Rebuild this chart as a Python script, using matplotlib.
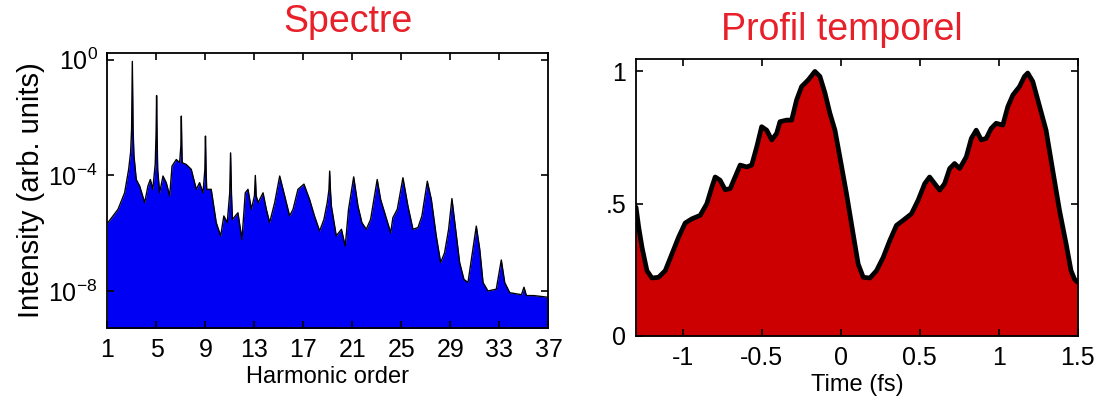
import numpy as np
import matplotlib
matplotlib.use("Agg")
import matplotlib.pyplot as plt

plt.rcParams['font.family'] = ['Liberation Sans', 'DejaVu Sans']
plt.rcParams['mathtext.default'] = 'regular'
plt.rcParams['axes.unicode_minus'] = False

# ---------------- data: spectrum (harmonic order, log10 intensity) -------------
harmonic_order = [
    1.0, 1.04, 1.86, 2.4, 2.73, 2.89, 2.97, 3.03, 3.09, 3.16, 3.35, 3.63, 4.04, 4.3, 4.5, 4.7,
    4.9, 4.97, 5.01, 5.05, 5.1, 5.26, 5.53, 5.8, 6.08, 6.27, 6.62, 6.89, 6.99, 7.03, 7.07,
    7.1, 7.43, 7.84, 8.25, 8.52, 8.8, 8.95, 9.0, 9.05, 9.1, 9.47, 9.88, 10.24, 10.5, 10.78,
    10.98, 11.05, 11.12, 11.2, 11.65, 11.98, 12.25, 12.47, 12.75, 13.0, 13.07, 13.14, 13.3,
    13.7, 13.97, 14.24, 14.65, 15.06, 15.47, 15.87, 16.15, 16.55, 17.04, 17.5, 17.9, 18.32,
    18.67, 18.94, 19.08, 19.14, 19.2, 19.28, 19.68, 20.1, 20.41, 20.68, 21.1, 21.45, 21.77,
    22.13, 22.48, 23.02, 23.3, 23.63, 24.12, 24.3, 24.66, 25.12, 25.53, 25.94, 26.35, 26.67,
    27.11, 27.44, 27.84, 28.2, 28.52, 28.85, 29.12, 29.39, 29.75, 30.1, 30.43, 30.75, 31.11,
    31.39, 31.66, 32.06, 32.74, 33.15, 33.43, 33.84, 34.52, 34.8, 35.0, 35.2, 35.8, 37.0,
]
log10_intensity = [
    -5.63, -5.63, -5.17, -4.6, -3.79, -3.2, -2.4, -0.06, -2.4, -3.3, -4.14, -4.37, -4.94, -4.37,
    -4.14, -4.48, -3.6, -2.52, -1.24, -2.64, -3.8, -4.6, -4.02, -4.25, -4.71, -3.68, -3.45,
    -3.56, -3.0, -1.95, -3.0, -3.56, -3.62, -3.79, -4.48, -4.25, -4.6, -3.8, -2.64, -3.8,
    -4.48, -4.48, -5.63, -6.09, -5.4, -5.63, -4.6, -3.22, -4.6, -5.52, -5.29, -6.21, -4.6,
    -4.48, -5.17, -4.7, -4.0, -4.7, -4.94, -4.6, -5.17, -5.63, -4.94, -4.02, -4.71, -5.4,
    -5.17, -4.48, -4.3, -4.83, -5.4, -5.92, -5.52, -4.94, -4.5, -3.85, -4.5, -5.06, -6.09,
    -5.86, -6.44, -5.17, -4.05, -5.06, -5.63, -5.86, -5.52, -4.14, -4.83, -5.29, -5.98,
    -5.46, -5.17, -4.08, -5.06, -5.86, -5.8, -5.4, -4.2, -4.83, -6.09, -7.01, -6.67, -5.86,
    -4.8, -5.75, -7.01, -7.59, -7.7, -6.78, -5.75, -6.55, -7.7, -7.99, -7.93, -6.92, -7.7,
    -8.05, -8.1, -8.12, -7.86, -8.15, -8.15, -8.21,
]

# ---------------- data: temporal profile -------------
time_fs = [
    -1.295, -1.278, -1.257, -1.226, -1.194, -1.152, -1.110, -1.068, -1.026, -0.984, -0.941,
    -0.889, -0.847, -0.815, -0.794, -0.763, -0.731, -0.699, -0.668, -0.636, -0.594, -0.563,
    -0.531, -0.500, -0.468, -0.436, -0.405, -0.384, -0.342, -0.310, -0.279, -0.247, -0.205,
    -0.163, -0.131, -0.099, -0.068, -0.036, -0.005, 0.037, 0.079, 0.111, 0.143, 0.185,
    0.227, 0.269, 0.311, 0.353, 0.395, 0.448, 0.490, 0.532, 0.563, 0.595, 0.627, 0.658,
    0.690, 0.721, 0.753, 0.795, 0.827, 0.858, 0.890, 0.921, 0.953, 0.984, 1.026, 1.058,
    1.090, 1.132, 1.163, 1.184, 1.216, 1.248, 1.300, 1.342, 1.385, 1.427, 1.458, 1.480, 1.500,
]
profile = [
    0.487, 0.411, 0.335, 0.247, 0.219, 0.222, 0.247, 0.310, 0.373, 0.427, 0.443,
    0.456, 0.500, 0.563, 0.601, 0.589, 0.553, 0.557, 0.601, 0.646, 0.639, 0.646,
    0.715, 0.791, 0.778, 0.741, 0.766, 0.810, 0.816, 0.816, 0.892, 0.943, 0.968,
    1.000, 0.981, 0.918, 0.842, 0.778, 0.677, 0.538, 0.386, 0.272, 0.222, 0.219,
    0.247, 0.297, 0.361, 0.418, 0.437, 0.462, 0.513, 0.576, 0.601, 0.576, 0.551, 0.576,
    0.633, 0.652, 0.633, 0.677, 0.747, 0.778, 0.741, 0.747, 0.785, 0.804, 0.797, 0.867,
    0.911, 0.943, 0.981, 0.994, 0.962, 0.892, 0.778, 0.627, 0.475, 0.348, 0.247, 0.215, 0.203,
]

spec_xticks = [1, 5, 9, 13, 17, 21, 25, 29, 33, 37]
spec_yticks = [1e0, 1e-4, 1e-8]
spec_yticklabels = [r'$10^{0}$', r'$10^{-4}$', r'$10^{-8}$']
time_xticks = [-1, -0.5, 0, 0.5, 1, 1.5]
time_xticklabels = ['-1', '-0.5', '0', '0.5', '1', '1.5']
time_yticks = [0, 0.5, 1]
time_yticklabels = ['0', '.5', '1']

TICK_FS = 18
XLAB_FS = 17
YLAB_FS = 21
title_color = '#e8202a'

fig = plt.figure(figsize=(11.0, 4.03), dpi=100)

# ---------------- left: spectrum -------------
ax1 = fig.add_axes([0.0977, 0.1861, 0.4009, 0.6824])
h = np.array(harmonic_order)
I = 10.0 ** np.array(log10_intensity)
ax1.set_yscale('log')
ax1.fill_between(h, I, 1e-12, color='#0000f5', linewidth=0)
ax1.plot(h, I, color='black', lw=1.0)
ax1.set_xlim(1, 37)
ax1.set_ylim(10 ** -9.27, 10 ** 0.23)
ax1.set_xticks(spec_xticks)
ax1.set_xticklabels([str(t) for t in spec_xticks])
ax1.set_yticks(spec_yticks)
ax1.set_yticklabels(spec_yticklabels)
ax1.minorticks_off()
ax1.set_xlabel('Harmonic order', fontsize=XLAB_FS, labelpad=3)
ax1.set_ylabel('Intensity (arb. units)', fontsize=YLAB_FS, labelpad=2)

# ---------------- right: temporal profile -------------
ax2 = fig.add_axes([0.5782, 0.1663, 0.4015, 0.6873])
ax2.fill_between(time_fs, profile, 0, color='#cc0000', linewidth=0)
ax2.plot(time_fs, profile, color='black', lw=3.4, solid_joinstyle='round', solid_capstyle='round')
ax2.set_xlim(-1.295, 1.5)
ax2.set_ylim(0, 1.047)
ax2.set_xticks(time_xticks)
ax2.set_xticklabels(time_xticklabels)
ax2.set_yticks(time_yticks)
ax2.set_yticklabels(time_yticklabels)
ax2.set_xlabel('Time (fs)', fontsize=XLAB_FS, labelpad=3)

for ax in (ax1, ax2):
    ax.tick_params(direction='in', length=5, width=1.2, top=True, right=True,
                   labelsize=TICK_FS, pad=7)
    for s in ax.spines.values():
        s.set_linewidth(1.3)
        s.set_zorder(5)

fig.text(0.316, 0.945, 'Spectre', color=title_color, fontsize=27, ha='center', va='center')
fig.text(0.765, 0.925, 'Profil temporel', color=title_color, fontsize=27, ha='center', va='center')

fig.savefig('out.png', dpi=100)
